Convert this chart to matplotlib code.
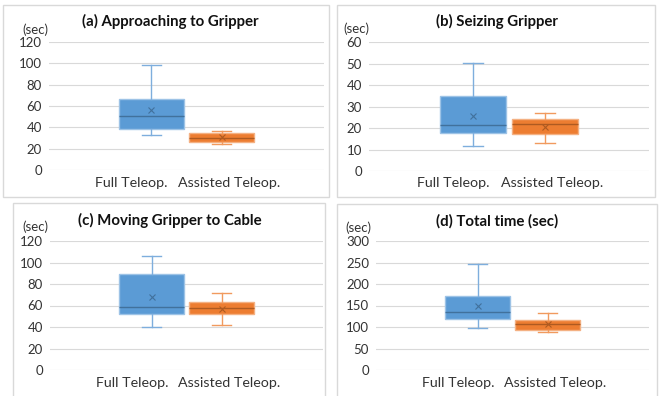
import matplotlib
matplotlib.use("Agg")
import matplotlib.pyplot as plt
from matplotlib.patches import Rectangle

plt.rcParams['font.family'] = ['Lato', 'DejaVu Sans']

titles = ["(a) Approaching to Gripper", "(b) Seizing Gripper",
          "(c) Moving Gripper to Cable", "(d) Total time (sec)"]
groups = ["Full Teleop.", "Assisted Teleop."]
ymax = [120, 60, 120, 300]
ystep = [20, 10, 20, 50]

# stats per panel: [Full, Assisted]
whislo = [[32.5, 24.4], [11.7, 12.8], [40.3, 41.5], [97.7, 88.4]]
q1 = [[38.1, 26.6], [17.6, 17.3], [51.8, 51.8], [117.8, 92.2]]
med = [[50.3, 29.7], [21.2, 21.8], [58.6, 57.7], [135.7, 106.0]]
q3 = [[66.2, 35.0], [34.9, 24.0], [89.5, 63.6], [172.0, 116.3]]
whishi = [[98.1, 36.9], [50.3, 27.1], [106.0, 72.0], [246.5, 132.6]]
mean = [[56.2, 30.6], [25.7, 20.6], [67.6, 57.0], [148.8, 107.6]]

fills = ["#5B9BD5", "#ED7D31"]
edges = ["#9DC3E6", "#F4B183"]
whisk = ["#7EAEDD", "#F19A5E"]
darks = ["#41719C", "#AE5A21"]
txtc = "#333333"

W, H = 660, 396
fig = plt.figure(figsize=(W / 100, H / 100), dpi=100)

# pixel layouts: frame (x0,y0,x1,y1), axes (left, top, right, bottom)
frames = [(3, 5, 329, 197), (337, 5, 655, 197), (13, 203, 325, 400), (337, 204, 657, 400)]
axpos = [(49, 42, 324, 170), (369, 42, 649, 171), (50, 241, 323, 370), (376, 241, 649, 370)]
title_xy = [(170, 21), (497, 21), (170, 220), (497, 221)]
sec_xy = [(35, 30), (356, 29), (35, 227), (358, 228)]
lab_y = [183, 183, 383, 383]

for i in range(4):
    fx0, fy0, fx1, fy1 = frames[i]
    fig.patches.append(Rectangle((fx0 / W, 1 - fy1 / H), (fx1 - fx0) / W, (fy1 - fy0) / H,
                                 transform=fig.transFigure, fill=False,
                                 edgecolor="#D9D9D9", lw=1.0))
    l, t, r, b = axpos[i]
    ax = fig.add_axes([l / W, 1 - b / H, (r - l) / W, (b - t) / H])
    stats = []
    for g in range(2):
        stats.append(dict(whislo=whislo[i][g], q1=q1[i][g], med=med[i][g],
                          q3=q3[i][g], whishi=whishi[i][g], mean=mean[i][g],
                          fliers=[], label=groups[g]))
    for g in range(2):
        ax.bxp([stats[g]], positions=[g + 1], widths=0.92, patch_artist=True,
               showmeans=True, capwidths=[0.27],
               boxprops=dict(facecolor=fills[g], edgecolor=edges[g], lw=1.0),
               medianprops=dict(color=darks[g], lw=1.0),
               whiskerprops=dict(color=whisk[g], lw=1.0),
               capprops=dict(color=whisk[g], lw=1.0),
               meanprops=dict(marker='x', markeredgecolor=darks[g], markersize=5,
                              markeredgewidth=0.8))
    ax.set_xlim(-0.45, 3.45)
    ax.set_ylim(0, ymax[i])
    ax.set_yticks(range(0, ymax[i] + 1, ystep[i]))
    ax.set_xticks([])
    ax.grid(axis='y', color="#D9D9D9", lw=0.8)
    ax.set_axisbelow(True)
    for s in ax.spines.values():
        s.set_visible(False)
    ax.tick_params(axis='y', length=0, labelsize=9.5, labelcolor=txtc, pad=5)
    ly = 1 - (lab_y[i] - t) / (b - t)
    ax.text(0.30, ly, groups[0], transform=ax.transAxes,
            ha='center', va='center', fontsize=10.3, color=txtc)
    ax.text(0.655, ly, groups[1], transform=ax.transAxes,
            ha='center', va='center', fontsize=10.3, color=txtc)
    tx, ty = title_xy[i]
    fig.text(tx / W, 1 - ty / H, titles[i], ha='center', va='center',
             fontsize=10.8, fontweight='bold', color="#111111")
    sx, sy = sec_xy[i]
    fig.text(sx / W, 1 - sy / H, "(sec)", ha='center', va='center',
             fontsize=9.5, color=txtc)

fig.savefig("out.png", dpi=100, facecolor="white")
